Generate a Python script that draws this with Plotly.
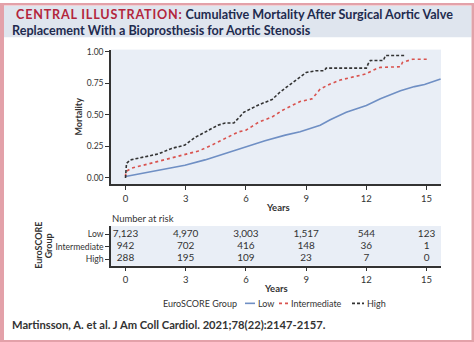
import plotly.graph_objects as go

W, H = 474, 342

# ---- data ----
low_years = [0, 0.63, 1.63, 2.96, 3.96, 4.97, 6.0, 6.95, 7.96, 8.7, 9.7, 10.2, 11.0, 12.0, 12.7, 13.7, 14.4, 14.9, 15.7]
low_mort = [0.012, 0.03, 0.064, 0.10, 0.143, 0.195, 0.247, 0.294, 0.339, 0.365, 0.417, 0.461, 0.52, 0.574, 0.626, 0.69, 0.723, 0.739, 0.783]

int_years = [0, 0.02, 0.3, 0.96, 1.63, 2.3, 2.96, 3.63, 4.3, 4.97, 5.63, 6.0, 6.65, 7.3, 7.8, 8.2, 8.7, 9.3, 9.7, 10.2, 10.7, 11.35, 11.95, 12.45, 12.7, 13.7, 13.8, 14.3, 15.1]
int_mort = [0.012, 0.051, 0.077, 0.103, 0.129, 0.155, 0.182, 0.213, 0.26, 0.312, 0.365, 0.378, 0.443, 0.482, 0.533, 0.566, 0.605, 0.626, 0.704, 0.744, 0.775, 0.80, 0.822, 0.861, 0.875, 0.88, 0.914, 0.94, 0.94]

high_years = [0, 0.05, 0.25, 0.96, 1.63, 2.3, 2.96, 3.46, 3.96, 4.6, 4.97, 5.4, 5.9, 6.65, 7.3, 7.69, 8.02, 8.44, 8.77, 9.0, 9.5, 9.9, 10.0, 12.0, 12.1, 12.2, 12.85, 12.95, 13.9]
high_mort = [0.0, 0.116, 0.143, 0.169, 0.19, 0.234, 0.26, 0.32, 0.365, 0.417, 0.435, 0.435, 0.52, 0.58, 0.62, 0.678, 0.718, 0.77, 0.81, 0.835, 0.849, 0.849, 0.869, 0.869, 0.906, 0.93, 0.93, 0.969, 0.969]

risk_years = [0, 3, 6, 9, 12, 15]
risk_low = [7123, 4970, 3003, 1517, 544, 123]
risk_int = [942, 702, 416, 148, 36, 1]
risk_high = [288, 195, 109, 23, 7, 0]
groups = ["Low", "Intermediate", "High"]

x_ticks = [0, 3, 6, 9, 12, 15]
y_ticks = [0.0, 0.25, 0.5, 0.75, 1.0]

# ---- styles ----
FONT = "Lato"
BLUE = "#6f8fc4"
RED = "#d9534f"
DARK = "#333333"
BG = "#e9eef6"
PINK = "#e3a1a9"
NAVY = "#1e2b4f"
CRIMSON = "#b3263c"


def px(x):
    return x / W


def py(y):
    return 1 - y / H


fig = go.Figure()
fig.add_trace(go.Scatter(x=low_years, y=low_mort, mode="lines", name="Low",
                         line=dict(color=BLUE, width=1.6)))
fig.add_trace(go.Scatter(x=int_years, y=int_mort, mode="lines", name="Intermediate",
                         line=dict(color=RED, width=1.6, dash="dot")))
fig.add_trace(go.Scatter(x=high_years, y=high_mort, mode="lines", name="High",
                         line=dict(color=DARK, width=1.6, dash="3px,2px")))

for yv, vals in zip([3, 2, 1], [risk_low, risk_int, risk_high]):
    fig.add_trace(go.Scatter(x=risk_years, y=[yv] * len(vals), mode="text",
                             text=[f"{v:,}" for v in vals], xaxis="x2", yaxis="y2",
                             textfont=dict(family=FONT, size=10, color=DARK),
                             hoverinfo="skip"))

xr = [(111 - 125.5) / 20.07, (441 - 125.5) / 20.07]
axis_common = dict(showline=True, linecolor=DARK, linewidth=1.5, ticks="outside",
                   ticklen=4, tickcolor=DARK, tickwidth=1.2, showgrid=False, zeroline=False,
                   tickfont=dict(family=FONT, size=9.5, color=DARK))

fig.update_layout(
    width=W, height=H, margin=dict(l=0, r=0, t=0, b=0),
    paper_bgcolor="white", plot_bgcolor=BG, showlegend=False,
    xaxis=dict(domain=[px(111), px(441)], range=xr, tickvals=x_ticks, anchor="y", **axis_common),
    yaxis=dict(domain=[py(183), py(47)], range=[-0.051, 1.016], tickvals=y_ticks,
               tickformat=".2f", anchor="x", **{**axis_common, "tickfont": dict(family=FONT, size=8.5, color=DARK)}),
    xaxis2=dict(domain=[px(111), px(441)], range=xr, tickvals=x_ticks, anchor="y2", **axis_common),
    yaxis2=dict(domain=[py(265), py(225)], range=[0.46, 3.67], tickvals=[3, 2, 1],
                ticktext=groups, anchor="x2", **{**axis_common, "tickfont": dict(family=FONT, size=8.6, color=DARK)}),
)

shapes = [
    # header band
    dict(type="rect", xref="paper", yref="paper", x0=px(4), x1=px(471.5), y0=py(34.5), y1=py(3),
         fillcolor="#dfe5ee", line=dict(width=0), layer="below"),
    # pink frame
    dict(type="rect", xref="paper", yref="paper", x0=0, x1=px(4), y0=0, y1=1, fillcolor=PINK, line=dict(width=0)),
    dict(type="rect", xref="paper", yref="paper", x0=0, x1=1, y0=py(2.5), y1=1, fillcolor=PINK, line=dict(width=0)),
    dict(type="rect", xref="paper", yref="paper", x0=px(471.5), x1=1, y0=0, y1=1, fillcolor=PINK, line=dict(width=0)),
    dict(type="rect", xref="paper", yref="paper", x0=0, x1=1, y0=0, y1=py(340), fillcolor=PINK, line=dict(width=0)),
    # legend samples
    dict(type="line", xref="paper", yref="paper", x0=px(245), x1=px(255), y0=py(303), y1=py(303),
         line=dict(color=BLUE, width=1.6)),
    dict(type="line", xref="paper", yref="paper", x0=px(279), x1=px(288), y0=py(303), y1=py(303),
         line=dict(color=RED, width=1.6, dash="dot")),
    dict(type="line", xref="paper", yref="paper", x0=px(352), x1=px(364), y0=py(303), y1=py(303),
         line=dict(color=DARK, width=1.6, dash="3px,2px")),
]
fig.update_layout(shapes=shapes)


def ann(text, x, y, size=9.5, color=DARK, xanchor="center", angle=0, bold=False):
    if bold:
        text = f"<b>{text}</b>"
    fig.add_annotation(text=text, x=px(x), y=py(y), xref="paper", yref="paper",
                       showarrow=False, xanchor=xanchor, yanchor="middle", textangle=angle,
                       font=dict(family=FONT, size=size, color=color), align="center",
                       borderpad=0)


ann(f"<span style='color:{CRIMSON};letter-spacing:0.8px'>CENTRAL ILLUSTRATION:</span> "
    "Cumulative Mortality After Surgical Aortic Valve", 15, 11.8, size=12.6, color=NAVY, xanchor="left", bold=True)
ann("Replacement With a Bioprosthesis for Aortic Stenosis", 11, 27.3, size=12.6, color=NAVY,
    xanchor="left", bold=True)
ann("Mortality", 78.5, 115, size=9, angle=-90, bold=True)
ann("Years", 278, 206, size=9.5, bold=True)
ann("Number at risk", 111, 217.5, size=9.5, xanchor="left")
ann("EuroSCORE", 39, 245, size=9, angle=-90, bold=True)
ann("Group", 48.5, 245, size=9, angle=-90, bold=True)
ann("Years", 276, 288.5, size=9.5, bold=True)
ann("EuroSCORE Group", 200, 303, size=9)
ann("Low", 257, 303, size=9, xanchor="left")
ann("Intermediate", 290, 303, size=9, xanchor="left")
ann("High", 366, 303, size=9, xanchor="left")
ann("Martinsson, A. et al. J Am Coll Cardiol. 2021;78(22):2147-2157.", 11, 324, size=11.2,
    xanchor="left", bold=True)

fig.write_html("out.html")
